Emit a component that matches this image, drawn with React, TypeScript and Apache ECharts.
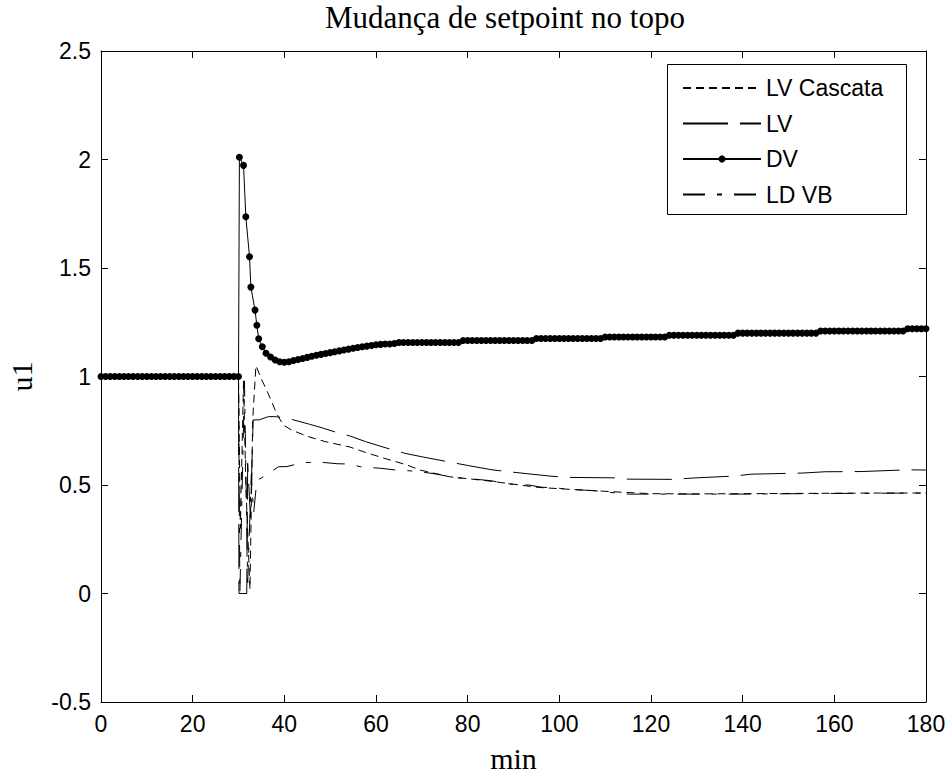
import React, { useEffect, useRef } from "react";
import * as echarts from "echarts";

// ---------------- DATA ----------------
const xTicks = { min: 0, max: 180, interval: 20 };
const yTicks = { min: -0.5, max: 2.5, interval: 0.5 };

const seriesNames = ["LV Cascata", "LV", "DV", "LD VB"];

// DV: per-minute samples 0..30 (before the setpoint change)
const dvPreStart = 0;
const dvPre = [
  1, 1, 1, 1, 1, 1, 1, 1, 1, 1, 1, 1, 1, 1, 1, 1, 1, 1, 1, 1, 1, 1, 1, 1, 1, 1, 1, 1, 1, 1, 1,
];
// DV: transient samples
const dvPeakT = [30.2, 31.1, 31.6, 32.4, 32.7, 33.6, 34.0, 34.4, 35.2];
const dvPeakY = [2.01, 1.973, 1.736, 1.552, 1.412, 1.306, 1.236, 1.174, 1.137];
// DV: per-minute samples 36..180
const dvTailStart = 36;
const dvTail = [
  1.107, 1.09, 1.076, 1.068, 1.066, 1.068, 1.074, 1.078, 1.083, 1.088,
  1.093, 1.098, 1.102, 1.106, 1.11, 1.114, 1.118, 1.122, 1.126, 1.13,
  1.134, 1.137, 1.14, 1.143, 1.146, 1.148, 1.15, 1.15, 1.152,
  1.157, 1.157, 1.157, 1.157, 1.157, 1.157, 1.157, 1.157, 1.157, 1.157, 1.157, 1.157, 1.157, 1.157,
  1.166, 1.166, 1.166, 1.166, 1.166, 1.166, 1.166, 1.166, 1.166, 1.166, 1.166, 1.166, 1.166, 1.166, 1.166, 1.166,
  1.175, 1.175, 1.175, 1.175, 1.175, 1.175, 1.175, 1.175, 1.175, 1.175, 1.175, 1.175, 1.175, 1.175, 1.175,
  1.182, 1.182, 1.182, 1.182, 1.182, 1.182, 1.182, 1.182, 1.182, 1.182, 1.182, 1.182, 1.182, 1.182,
  1.19, 1.19, 1.19, 1.19, 1.19, 1.19, 1.19, 1.19, 1.19, 1.19, 1.19, 1.19, 1.19, 1.19, 1.19,
  1.2, 1.2, 1.2, 1.2, 1.2, 1.2, 1.2, 1.2, 1.2, 1.2, 1.2, 1.2, 1.2, 1.2, 1.2, 1.2, 1.2, 1.2,
  1.21, 1.21, 1.21, 1.21, 1.21, 1.21, 1.21, 1.21, 1.21, 1.21, 1.21, 1.21, 1.21, 1.21, 1.21, 1.21, 1.21, 1.21, 1.21,
  1.22, 1.22, 1.22, 1.22, 1.22,
];

// LV Cascata
const lvcT = [
  0, 30, 30.4, 31.1, 31.6, 32.5, 33.1, 33.8, 35.1, 36.5, 38, 38.7, 39.8, 41.6, 45.2, 48.9,
  54.3, 58, 62, 66.8, 69.6, 74.4, 76, 84, 91.4, 95.3, 104.7, 115.2, 120, 130, 140, 150, 160, 170, 180,
];
const lvcY = [
  1, 1, 0.3, 0.98, 0.5, 0.02, 0.8, 1.05, 0.984, 0.92, 0.846, 0.815, 0.776, 0.753, 0.723, 0.7,
  0.675, 0.648, 0.622, 0.592, 0.569, 0.546, 0.538, 0.52, 0.5, 0.489, 0.477, 0.465, 0.46, 0.459, 0.46, 0.461, 0.462, 0.463, 0.463,
];

// LV
const lvT = [
  0, 30, 30.1, 31.8, 32.0, 32.6, 33.2, 34.5, 36.5, 38, 40, 42, 45.5, 48, 51, 54.3, 57.7, 62, 66.3,
  70, 75, 80, 85.3, 89, 93, 98, 102, 112, 115, 125, 129, 138, 142, 153, 158, 166, 176, 180,
];
const lvY = [
  1, 1, 0, 0, 0.6, 0.35, 0.8, 0.8, 0.815, 0.815, 0.81, 0.8, 0.78, 0.765, 0.745, 0.726, 0.7, 0.672, 0.646,
  0.63, 0.61, 0.59, 0.57, 0.561, 0.552, 0.541, 0.535, 0.533, 0.527, 0.526, 0.532, 0.541, 0.55, 0.555, 0.561, 0.562, 0.57, 0.569,
];

// LD VB
const ldT = [
  0, 30, 30.3, 31.3, 32.0, 32.8, 33.3, 34, 36.2, 38.7, 40.6, 44, 48, 51.5, 53.5, 56.7, 61, 64.4, 67.6,
  70, 73.3, 77, 81, 85, 90.5, 93.4, 96, 100, 102, 107.6, 110, 115, 120, 140, 160, 180,
];
const ldY = [
  1, 1, 0, 0.98, 0.05, 0.55, 0.37, 0.52, 0.548, 0.584, 0.585, 0.603, 0.605, 0.598, 0.597, 0.584, 0.577, 0.569, 0.565,
  0.56, 0.55, 0.534, 0.528, 0.52, 0.5, 0.5, 0.49, 0.485, 0.48, 0.474, 0.468, 0.458, 0.458, 0.458, 0.461, 0.463,
];

const titleText = "Mudança de setpoint no topo";
const xName = "min";
const yName = "u1";

// ---------------- CHART ----------------
const SANS = "'Liberation Sans', Arial, Helvetica, sans-serif";
const SERIF = "'Liberation Serif', 'Times New Roman', Times, serif";

function pairs(t: number[], y: number[]) {
  return t.map((v, i) => [v, y[i]]);
}

export default function App() {
  const ref = useRef<HTMLDivElement>(null);

  useEffect(() => {
    if (!ref.current) return;
    const chart = echarts.init(ref.current, undefined, { renderer: "svg" });

    const dvData = [
      ...dvPre.map((v, i) => [dvPreStart + i, v]),
      ...pairs(dvPeakT, dvPeakY),
      ...dvTail.map((v, i) => [dvTailStart + i, v]),
    ];

    const axisCommon = {
      type: "value" as const,
      axisLine: { show: true, onZero: false, lineStyle: { color: "#000", width: 1 } },
      axisTick: { show: true, inside: true, length: 7, lineStyle: { color: "#000", width: 1 } },
      splitLine: { show: false },
    };

    const legendData = seriesNames.map((n) =>
      n === "DV" ? { name: n } : { name: n, itemStyle: { opacity: 0 } }
    );

    const option: any = {
      animation: false,
      backgroundColor: "#fff",
      title: {
        text: titleText,
        left: 325,
        top: 2,
        padding: 0,
        textStyle: { fontFamily: SERIF, fontSize: 31, fontWeight: "normal", color: "#000" },
      },
      grid: {
        left: 101,
        right: 25,
        top: 51,
        bottom: 76,
        containLabel: false,
        outerBoundsMode: "none",
      },
      xAxis: [
        {
          ...axisCommon,
          position: "bottom",
          min: xTicks.min,
          max: xTicks.max,
          interval: xTicks.interval,
          name: xName,
          nameLocation: "middle",
          nameGap: 41,
          nameTextStyle: { fontFamily: SERIF, fontSize: 30, color: "#000" },
          axisLabel: { show: true, margin: 10, fontFamily: SANS, fontSize: 23, color: "#000" },
        },
        {
          ...axisCommon,
          position: "top",
          min: xTicks.min,
          max: xTicks.max,
          interval: xTicks.interval,
          axisLabel: { show: false },
        },
      ],
      yAxis: [
        {
          ...axisCommon,
          position: "left",
          min: yTicks.min,
          max: yTicks.max,
          interval: yTicks.interval,
          name: yName,
          nameLocation: "middle",
          nameGap: 65,
          nameTextStyle: { fontFamily: SERIF, fontSize: 30, color: "#000" },
          axisLabel: { show: true, margin: 10, fontFamily: SANS, fontSize: 23, color: "#000" },
        },
        {
          ...axisCommon,
          position: "right",
          min: yTicks.min,
          max: yTicks.max,
          interval: yTicks.interval,
          axisLabel: { show: false },
        },
      ],
      legend: {
        orient: "vertical",
        left: 682,
        top: 76,
        padding: 0,
        itemWidth: 78,
        itemHeight: 9,
        itemGap: 11.5,
        data: legendData,
        textStyle: { fontFamily: SANS, fontSize: 23, color: "#000", lineHeight: 24 },
      },
      graphic: [
        {
          type: "rect",
          z: 3,
          shape: { x: 667.5, y: 64.5, width: 239, height: 150 },
          style: { fill: "#fff", stroke: "#000", lineWidth: 1 },
        },
      ],
      series: [
        {
          name: seriesNames[0],
          type: "line",
          data: pairs(lvcT, lvcY),
          symbol: "none",
          lineStyle: { color: "#000", width: 1, type: [8, 5] },
          itemStyle: { color: "#000" },
          z: 2,
        },
        {
          name: seriesNames[1],
          type: "line",
          data: pairs(lvT, lvY),
          symbol: "none",
          lineStyle: { color: "#000", width: 1, type: [45, 12] },
          itemStyle: { color: "#000" },
          z: 2,
        },
        {
          name: seriesNames[2],
          type: "line",
          data: dvData,
          symbol: "circle",
          symbolSize: 7,
          showSymbol: true,
          lineStyle: { color: "#000", width: 1, type: "solid" },
          itemStyle: { color: "#000" },
          z: 3,
        },
        {
          name: seriesNames[3],
          type: "line",
          data: pairs(ldT, ldY),
          symbol: "none",
          lineStyle: { color: "#000", width: 1, type: [22, 12, 5, 12] },
          itemStyle: { color: "#000" },
          z: 2,
        },
      ],
    };

    chart.setOption(option);
    return () => {
      chart.dispose();
    };
  }, []);

  return (
    <div
      ref={ref}
      style={{ position: "absolute", left: 0, top: 0, width: 951, height: 778, background: "#fff" }}
    />
  );
}
